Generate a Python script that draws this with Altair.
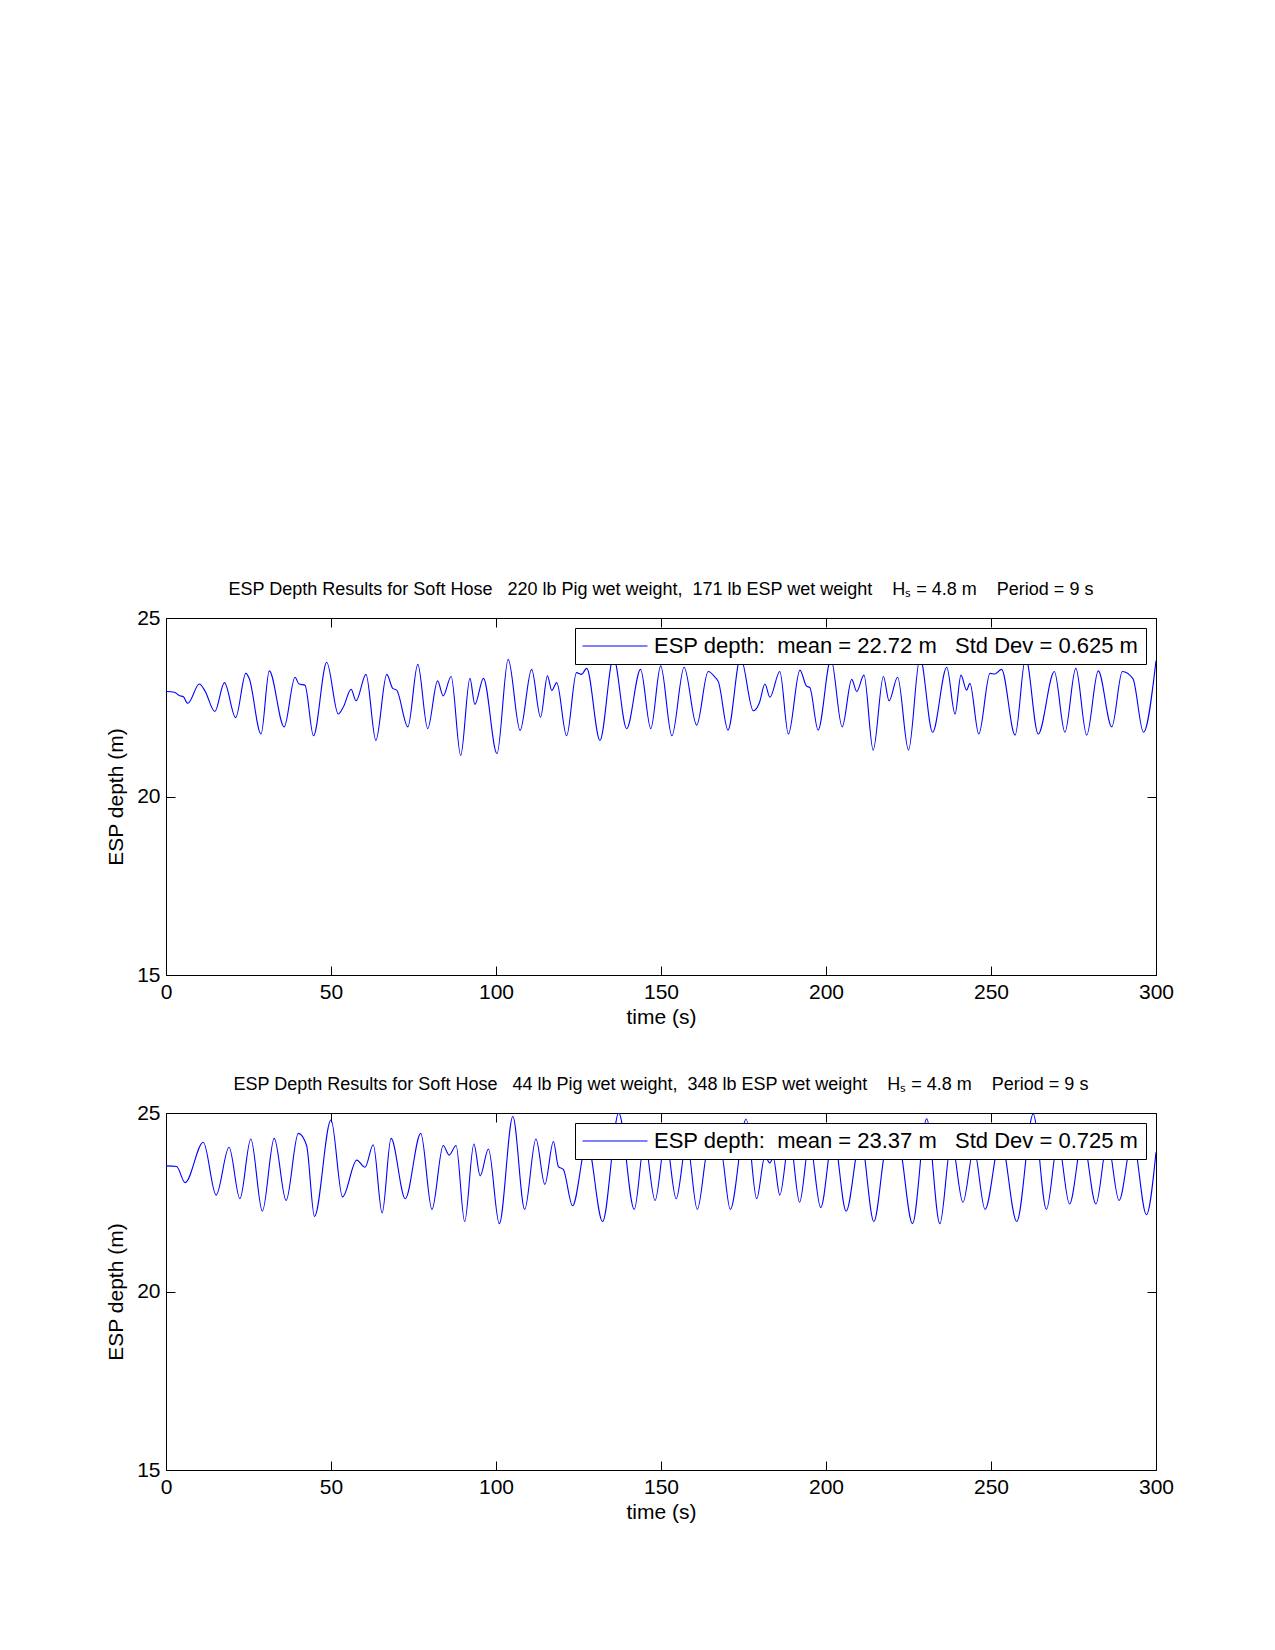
import altair as alt
import pandas as pd

# ---------------- data ----------------
top_t = [0, 2.5, 4.2, 5.2, 6.6, 10.1, 11.8, 14.8, 17.7, 21.1, 24.2, 25.2, 28.8, 31.3, 35.8,
         39.1, 40.3, 42.1, 44.7, 48.7, 52.2, 53.7, 56.1, 57.6, 60.6, 63.6, 66.9, 68.7, 69.9,
         73.3, 76.3, 79.3, 82.3, 84.0, 86.4, 89.3, 92.1, 93.6, 96.2, 100.3, 103.7, 107.3,
         110.8, 113.5, 115.6, 116.9, 118.4, 121.4, 124.4, 125.9, 127.5, 131.5, 135.6, 139.6,
         143.8, 146.9, 149.9, 153.3, 157.0, 160.8, 164.3, 166.4, 167.4, 170.3, 174.1, 178.0,
         179.8, 181.5, 183.0, 186.0, 188.6, 192.1, 194.1, 195.1, 197.6, 201.5, 204.9, 207.8,
         209.3, 211.5, 214.3, 217.4, 219.1, 221.7, 225.0, 228.5, 232.3, 236.6, 239.1, 240.9,
         242.6, 243.6, 246.3, 249.7, 251.2, 253.2, 257.3, 260.5, 264.3, 269.2, 272.4, 275.7,
         279.0, 282.5, 286.6, 289.8, 293.0, 296.2, 300.0]
top_v = [22.94, 22.92, 22.82, 22.80, 22.61, 23.15, 22.96, 22.38, 23.19, 22.21, 23.45, 23.31,
         21.75, 23.52, 21.95, 23.34, 23.15, 23.12, 21.70, 23.76, 22.31, 22.50, 23.00, 22.68,
         23.42, 21.57, 23.42, 23.03, 22.98, 21.95, 23.70, 21.90, 23.24, 22.82, 23.36, 21.15,
         23.31, 22.58, 23.31, 21.20, 23.84, 21.85, 23.56, 22.22, 23.38, 22.97, 23.19, 21.70,
         23.47, 23.42, 23.59, 21.57, 23.90, 21.90, 23.56, 21.90, 23.66, 21.70, 23.62, 22.00,
         23.50, 23.34, 23.21, 21.86, 23.90, 22.40, 22.62, 23.15, 22.78, 23.50, 21.75, 23.54,
         23.09, 23.05, 21.86, 23.85, 21.95, 23.28, 22.94, 23.40, 21.30, 23.36, 22.68, 23.34,
         21.30, 23.90, 21.80, 23.62, 22.31, 23.40, 22.98, 23.17, 21.75, 23.45, 23.43, 23.56,
         21.72, 23.90, 21.75, 23.50, 21.80, 23.59, 21.72, 23.52, 21.95, 23.50, 23.30, 21.80,
         23.80]

bot_t = [0, 3.2, 5.8, 11.3, 15.2, 19.1, 22.4, 25.7, 29.2, 32.8, 36.4, 40.1, 42.6, 45.0, 50.0,
         53.5, 57.8, 60.3, 62.8, 65.5, 68.2, 72.5, 77.2, 80.6, 84.0, 85.8, 87.9, 90.5, 93.3,
         95.2, 97.7, 101.0, 105.1, 108.7, 112.1, 114.8, 117.4, 118.9, 120.4, 123.2, 127.6,
         132.3, 137.2, 141.9, 145.0, 148.2, 151.4, 154.6, 157.8, 161.0, 164.5, 166.5, 168.0,
         171.0, 175.8, 179.0, 181.5, 183.0, 184.0, 186.0, 189.0, 192.0, 195.0, 198.4, 202.2,
         206.1, 210.5, 214.5, 218.5, 220.0, 221.8, 226.2, 230.5, 234.5, 238.0, 241.5, 244.8,
         248.2, 252.9, 257.8, 262.8, 266.8, 270.3, 273.8, 277.8, 281.8, 285.3, 288.8, 292.9,
         297.1, 300.0]
bot_v = [23.52, 23.50, 23.05, 24.18, 22.70, 24.04, 22.60, 24.27, 22.25, 24.29, 22.55, 24.43,
         24.09, 22.10, 24.81, 22.65, 23.68, 23.48, 24.11, 22.20, 24.29, 22.60, 24.43, 22.30,
         24.09, 23.82, 24.09, 21.96, 24.13, 23.24, 23.99, 21.90, 24.90, 22.30, 24.27, 23.00,
         24.20, 23.50, 23.42, 22.40, 24.20, 21.96, 25.00, 22.30, 24.20, 22.55, 24.30, 22.60,
         24.20, 22.30, 24.10, 23.70, 24.00, 22.30, 24.83, 22.60, 23.80, 23.60, 23.75, 22.70,
         24.30, 22.50, 24.20, 22.35, 24.40, 22.25, 24.30, 21.96, 24.10, 23.75, 24.20, 21.90,
         24.84, 21.90, 24.20, 22.50, 24.00, 22.30, 24.30, 21.96, 24.97, 22.30, 24.20, 22.45,
         24.30, 22.45, 24.20, 22.55, 24.30, 22.15, 23.90]

x_ticks = [0, 50, 100, 150, 200, 250, 300]
y_ticks = [15, 20, 25]

NB = "\u00a0"
top_label = f"ESP depth:{NB}{NB}mean = 22.72 m{NB}{NB}{NB}Std Dev = 0.625 m"
bot_label = f"ESP depth:{NB}{NB}mean = 23.37 m{NB}{NB}{NB}Std Dev = 0.725 m"
top_title = (f"ESP Depth Results for Soft Hose{NB}{NB}{NB}220 lb Pig wet weight,{NB}{NB}171 lb ESP wet weight"
             f"{NB}{NB}{NB}{NB}H\u209b = 4.8 m{NB}{NB}{NB}{NB}Period = 9 s")
bot_title = (f"ESP Depth Results for Soft Hose{NB}{NB}{NB}44 lb Pig wet weight,{NB}{NB}348 lb ESP wet weight"
             f"{NB}{NB}{NB}{NB}H\u209b = 4.8 m{NB}{NB}{NB}{NB}Period = 9 s")

FONT = "Liberation Sans"


def panel(t, v, label, title):
    df = pd.DataFrame({"t": t, "v": v, "s": [label] * len(t)})
    base = alt.Chart(df)
    line = base.mark_line(interpolate="monotone", strokeWidth=1.1, clip=True).encode(
        x=alt.X("t:Q", scale=alt.Scale(domain=[0, 300], nice=False, zero=False),
                axis=alt.Axis(orient="bottom", values=x_ticks, offset=-9, tickSize=9,
                              domain=False, grid=False, labelPadding=6, labelFlush=False,
                              labelOverlap=False, title="time (s)", titlePadding=4)),
        y=alt.Y("v:Q", scale=alt.Scale(domain=[15, 25], nice=False, zero=False),
                axis=alt.Axis(orient="left", values=y_ticks, offset=-9, tickSize=9,
                              domain=False, grid=False, labelPadding=6, labelFlush=False,
                              labelOverlap=False, title="ESP depth (m)", titlePadding=10)),
        color=alt.Color("s:N", scale=alt.Scale(range=["#0000ff"]),
                        legend=alt.Legend(orient="top-right", offset=10, title=None,
                                          fillColor="white", strokeColor="black",
                                          padding=7, labelFontSize=22, labelFont=FONT,
                                          labelColor="black", labelLimit=1000,
                                          symbolType="stroke", symbolSize=4225,
                                          symbolStrokeWidth=1, labelOffset=6,
                                          clipHeight=22)),
    )
    mirror = base.mark_line(opacity=0).encode(
        x=alt.X("t:Q", axis=alt.Axis(orient="top", values=x_ticks, offset=-9, tickSize=9,
                                     labels=False, domain=False, grid=False, title=None)),
        y=alt.Y("v:Q", axis=alt.Axis(orient="right", values=y_ticks, offset=-9, tickSize=9,
                                     labels=False, domain=False, grid=False, title=None)),
    )
    return alt.layer(line, mirror).properties(
        width=990, height=357,
        title=alt.TitleParams(title, fontSize=18, font=FONT, fontWeight="normal",
                              anchor="middle", frame="group", offset=8, color="black"),
    )


chart = alt.vconcat(
    panel(top_t, top_v, top_label, top_title),
    panel(bot_t, bot_v, bot_label, bot_title),
    spacing=47,
).resolve_scale(
    color="independent"
).resolve_legend(
    color="independent"
).properties(
    padding={"left": 97, "top": 572, "right": 5, "bottom": 5},
).configure_view(
    stroke="black", strokeWidth=1
).configure_axis(
    labelFont=FONT, labelFontSize=21, labelColor="black",
    titleFont=FONT, titleFontSize=21, titleFontWeight="normal", titleColor="black",
    tickColor="black", tickWidth=1,
)

chart.save("out.html", embed_options={"renderer": "svg", "actions": False})
